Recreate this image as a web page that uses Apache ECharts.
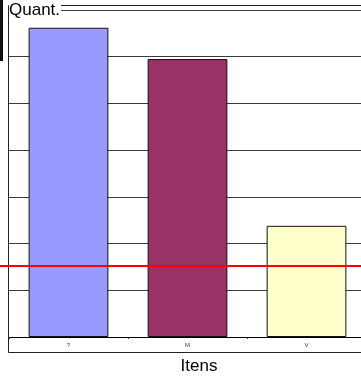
<!DOCTYPE html>
<html>
<head>
<meta charset="utf-8">
<script src="https://cdn.jsdelivr.net/npm/echarts@6/dist/echarts.min.js"></script>
<style>
  html, body { margin: 0; padding: 0; background: #fff; }
  #chart { width: 361px; height: 376px; }
</style>
</head>
<body>
<div id="chart"></div>
<script>
// Item categories and their counts
const categories = ['?', 'M', 'V'];
const counts = [6.62, 5.95, 2.38];
const barColors = ['#9999FF', '#993366', '#FFFFCC'];
// Reference level drawn as the red horizontal line
const referenceLevel = 1.52;
const yMax = 7;

const chart = echarts.init(document.getElementById('chart'), null, { renderer: 'canvas' });

const font = '"Liberation Sans", Arial, sans-serif';

chart.setOption({
  animation: false,
  backgroundColor: '#ffffff',
  grid: [
    { left: 9, width: 357, top: 10, bottom: 39, containLabel: false, outerBoundsMode: 'none' },
    { left: 0, right: 0, top: 10, bottom: 39, containLabel: false, outerBoundsMode: 'none' }
  ],
  xAxis: [
    {
      type: 'category',
      gridIndex: 0,
      data: categories,
      name: 'Itens',
      nameLocation: 'middle',
      nameGap: 21,
      nameTextStyle: { fontFamily: font, fontSize: 17, color: '#000', padding: [0, 0, 0, 23] },
      axisLine: { lineStyle: { color: '#000', width: 1 } },
      axisTick: { show: true, length: 2, lineStyle: { color: '#333' } },
      axisLabel: { fontFamily: font, fontSize: 6, color: '#333', margin: 5 },
      splitLine: { show: false }
    },
    {
      type: 'value',
      gridIndex: 1,
      min: 0,
      max: 1,
      show: false
    }
  ],
  yAxis: [
    {
      type: 'value',
      gridIndex: 0,
      min: 0,
      max: yMax,
      interval: 1,
      axisLine: { show: false },
      axisTick: { show: false },
      axisLabel: { show: false },
      splitLine: { show: true, lineStyle: { color: '#3a3a3a', width: 1 } }
    },
    {
      type: 'value',
      gridIndex: 1,
      min: 0,
      max: yMax,
      show: false
    }
  ],
  graphic: [
    // outer frame of the plot
    {
      type: 'rect',
      z: -1,
      shape: { x: 8.5, y: 5.5, width: 400, height: 347 },
      style: { fill: null, stroke: '#222', lineWidth: 1 }
    },
    // dark stroke at the left edge
    {
      type: 'rect',
      shape: { x: 0, y: 0, width: 3, height: 61 },
      style: { fill: '#111' }
    },
    // vertical axis title
    {
      type: 'text',
      z: 10,
      left: 9,
      top: 2,
      style: {
        text: 'Quant.',
        fontFamily: font,
        fontSize: 17,
        fill: '#000',
        backgroundColor: '#fff',
        padding: [0, 1, 0, 0]
      }
    }
  ],
  series: [
    {
      type: 'bar',
      xAxisIndex: 0,
      yAxisIndex: 0,
      barCategoryGap: '33%',
      data: counts.map((v, i) => ({
        value: v,
        itemStyle: { color: barColors[i], borderColor: '#111', borderWidth: 1 }
      }))
    },
    {
      type: 'line',
      xAxisIndex: 1,
      yAxisIndex: 1,
      z: 5,
      symbol: 'none',
      lineStyle: { color: '#ff0000', width: 2 },
      data: [[0, referenceLevel], [1, referenceLevel]]
    }
  ]
});
</script>
</body>
</html>
